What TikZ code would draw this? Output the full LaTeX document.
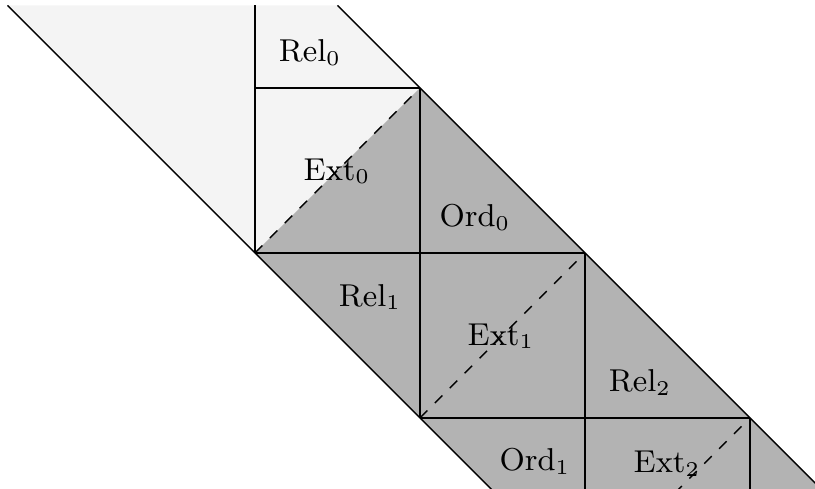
\documentclass[tikz,border=0pt]{standalone}
\begin{document}
\begin{tikzpicture}[x=1.65cm,y=1.65cm,
  grid/.style={black,line width=0.4pt},
  diag/.style={black,line width=0.4pt,dashed},
  lbl/.style={inner sep=0pt,anchor=center,font=\fontsize{8.8}{10}\selectfont}]
\definecolor{lightfill}{gray}{0.957}
\definecolor{darkfill}{gray}{0.702}
\useasboundingbox (-1.5455,-1.4303) rectangle (3.394,1.5333);
\clip (-1.5455,-1.4303) rectangle (3.394,1.5);
% vertices
\coordinate (tl) at (-1.5,1.5);
\coordinate (tr) at (0.5,1.5);
\coordinate (t0) at (0,1.5);
\coordinate (a) at (0,1);
\coordinate (b) at (1,1);
\coordinate (o) at (0,0);
\coordinate (c) at (1,0);
\coordinate (d) at (2,0);
\coordinate (e) at (1,-1);
\coordinate (f) at (2,-1);
\coordinate (g) at (3,-1);
\coordinate (h) at (2,-2);
\coordinate (i) at (3,-2);
\coordinate (j) at (4,-2);
% fills
\fill[lightfill] (tl) -- (tr) -- (b) -- (o) -- cycle;
\fill[darkfill] (b) -- (o) -- (h) -- (j) -- cycle;
% boundary lines
\draw[grid] (tl) -- (h);
\draw[grid] (tr) -- (j);
% grid lines
\draw[grid] (t0) -- (o);
\draw[grid] (a) -- (b);
\draw[grid] (b) -- (e);
\draw[grid] (o) -- (d);
\draw[grid] (d) -- (h);
\draw[grid] (e) -- (g);
\draw[grid] (g) -- (i);
% dashed diagonals
\draw[diag] (o) -- (b);
\draw[diag] (e) -- (d);
\draw[diag] (h) -- (g);
% labels
\node[lbl] (rel0) at (0.333,1.215) {$\mathrm{Rel}_0$};
\node[lbl] (ext0) at (0.497,0.497) {$\mathrm{Ext}_0$};
\node[lbl] (ord0) at (1.333,0.215) {$\mathrm{Ord}_0$};
\node[lbl] (rel1) at (0.697,-0.267) {$\mathrm{Rel}_1$};
\node[lbl] (ext1) at (1.491,-0.503) {$\mathrm{Ext}_1$};
\node[lbl] (rel2) at (2.333,-0.785) {$\mathrm{Rel}_2$};
\node[lbl] (ord1) at (1.697,-1.264) {$\mathrm{Ord}_1$};
\node[lbl] (ext2) at (2.497,-1.276) {$\mathrm{Ext}_2$};
\end{tikzpicture}
\end{document}
